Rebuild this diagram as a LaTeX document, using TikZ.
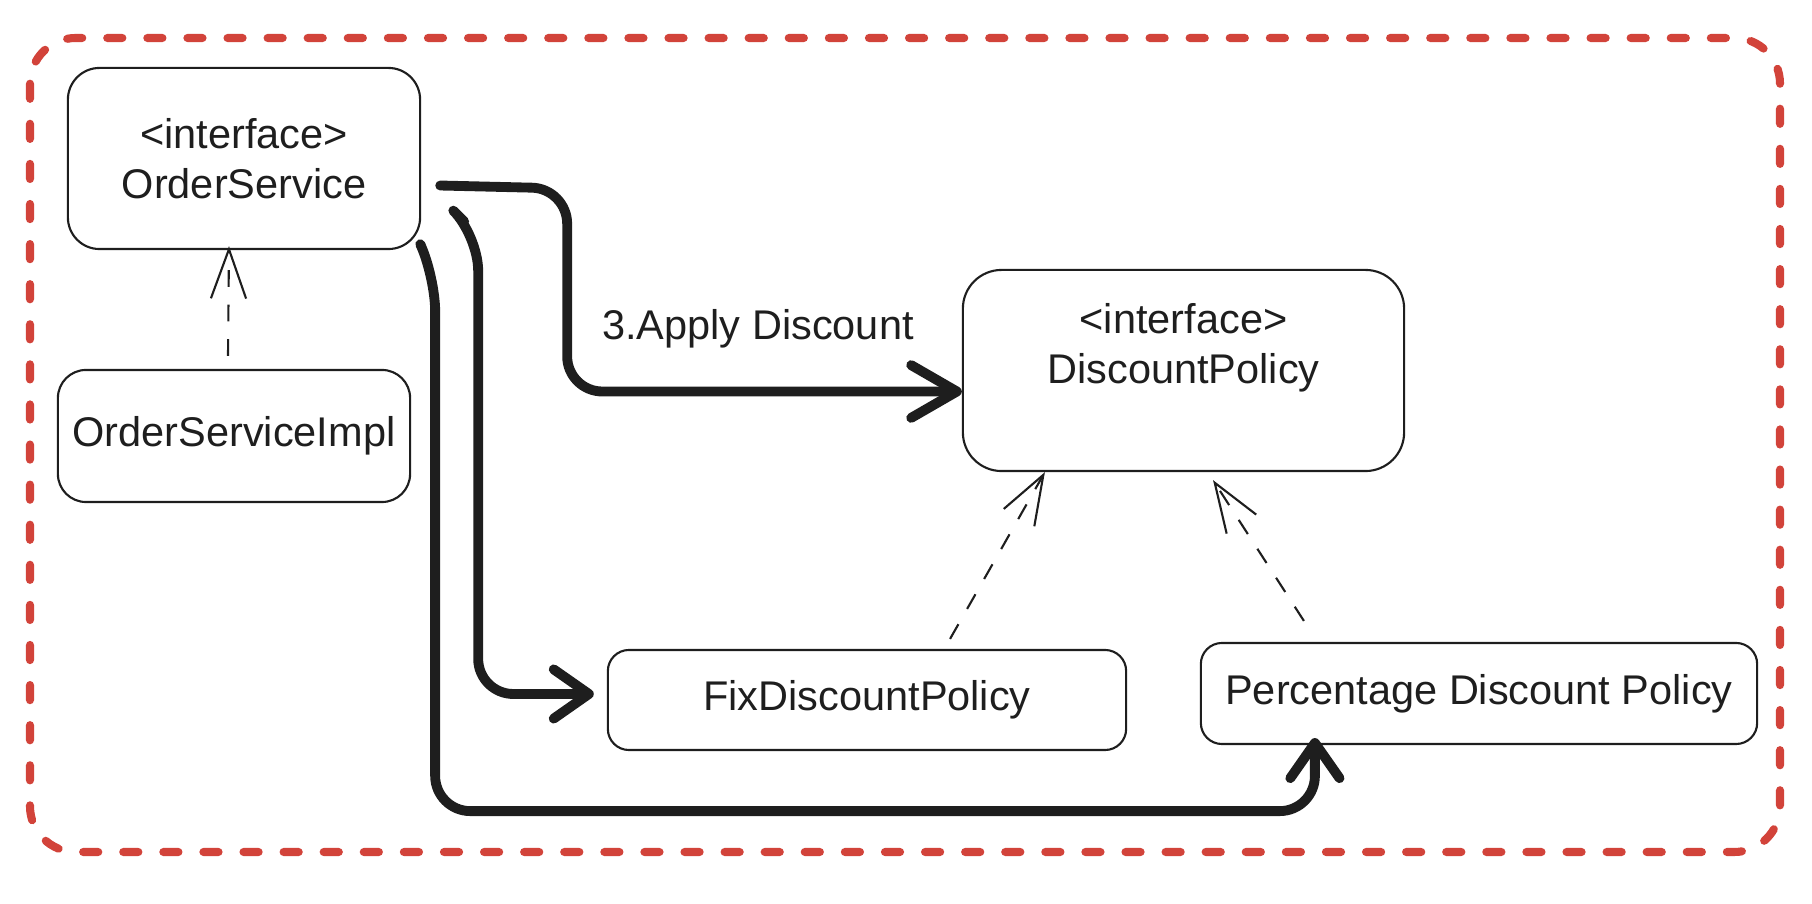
\documentclass[tikz,border=0pt]{standalone}
\usepackage{fontspec}
\setmainfont{Liberation Sans}
\usepackage{tikz}
\usetikzlibrary{arrows.meta}
\definecolor{ink}{RGB}{30,30,30}
\definecolor{redline}{RGB}{210,67,58}

\begin{document}
\begin{tikzpicture}[x=0.01cm,y=-0.01cm,
        box/.style={draw=ink,line width=0.6pt,inner sep=0pt,align=center},
        txt/.style={text=ink,font=\fontsize{11.8}{14.2}\selectfont,align=center},
        real/.style={draw=ink,line width=0.6pt,dash pattern=on 4.8pt off 5pt,-{Straight Barb[length=14pt,width=10pt]}},
        flow/.style={draw=ink,line width=2.8pt,line cap=round,line join=round,rounded corners=10pt,-{Straight Barb[length=10pt,width=14pt,round]}},
        border/.style={draw=redline,line width=2.3pt,line cap=round,dash pattern=on 4.3pt off 7.1pt,rounded corners=13pt}]
        \useasboundingbox (0,0) rectangle (1812,904);
        \draw [border] (30,38) rectangle (1780,852);%frame
        \node[box,txt,minimum width=3.52cm,minimum height=1.81cm,rounded corners=9pt] (S) at (244,158.5) {<interface>\\OrderService};%os
        \node[box,txt,minimum width=3.52cm,minimum height=1.32cm,rounded corners=8pt] (I) at (234,436) {OrderServiceImpl};%osi
        \node[box,minimum width=4.41cm,minimum height=2.01cm,rounded corners=11pt] (P) at (1183.5,370.5) {};%dp
        \node[txt] (Pt) at ([yshift=0.23cm]P.center) {<interface>\\DiscountPolicy};
        \node[box,txt,minimum width=5.18cm,minimum height=1.00cm,rounded corners=6pt] (F) at (867,700) {FixDiscountPolicy};%fix
        \node[box,txt,minimum width=5.56cm,minimum height=1.01cm,rounded corners=6pt] (R) at (1479,693.5) {Percentage Discount Policy};%rate
        \node[txt] (L) at (758,329) {3.Apply Discount};
        \draw [real] ([xshift=-0.06cm,yshift=0.13cm]I.north)--([xshift=-0.15cm,yshift=0.04cm]S.south);
        \draw [real] ([xshift=0.83cm,yshift=0.1cm]F.north)--([xshift=-1.385cm]P.south);
        \draw [real] ([xshift=-1.75cm,yshift=0.21cm]R.north)--([xshift=0.295cm,yshift=-0.08cm]P.south);
        \draw [flow,-{Straight Barb[length=13pt,width=15pt,round]}] ([xshift=0.19cm,yshift=-0.27cm]S.east)--++(127,3)|-([yshift=-0.21cm]P.west);
        \draw [flow] ([xshift=0.43cm,yshift=-0.63cm]S.east)--++(14,14)|-([xshift=-0.13cm,yshift=0.06cm]F.west);
        \draw [flow] ([yshift=0.04cm]S.south east)--++(14,30)--++(0,535)-|([xshift=-1.64cm,yshift=0.07cm]R.south);
\end{tikzpicture}
\end{document}
